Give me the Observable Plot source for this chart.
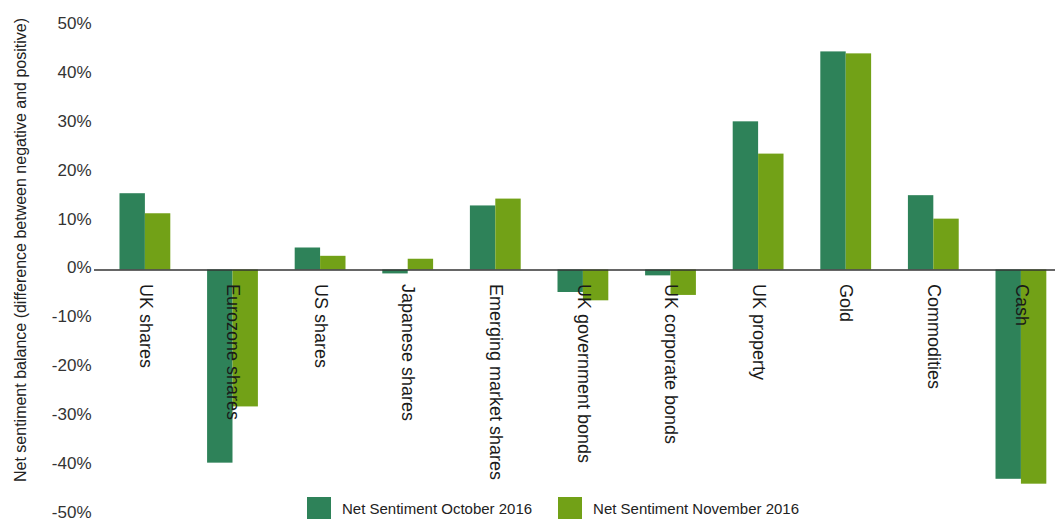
<!DOCTYPE html>
<html>
<head>
<meta charset="utf-8">
<script src="https://cdn.jsdelivr.net/npm/d3@7"></script>
<script src="https://cdn.jsdelivr.net/npm/@observablehq/plot@0.6"></script>
<style>
  body { margin: 0; background: #fff; font-family: "Liberation Sans", Arial, Helvetica, sans-serif; }
  #wrap { position: relative; width: 1055px; height: 521px; }
  #legend { position: absolute; top: 497px; left: 307px; display: flex; align-items: center; font-size: 15px; color: #222; }
  .item { display: flex; align-items: center; margin-right: 26px; }
  .sw { width: 24px; height: 22px; margin-right: 11px; }
</style>
</head>
<body>
<div id="wrap"></div>
<script>
const categories = ["UK shares", "Eurozone shares", "US shares", "Japanese shares", "Emerging market shares",
  "UK government bonds", "UK corporate bonds", "UK property", "Gold", "Commodities", "Cash"];
const october2016 = [15.6, -39.5, 4.5, -0.8, 13.1, -4.6, -1.2, 30.3, 44.6, 15.2, -42.8];
const november2016 = [11.5, -28.0, 2.8, 2.2, 14.5, -6.3, -5.2, 23.7, 44.2, 10.4, -43.8];
const seriesNames = ["Net Sentiment October 2016", "Net Sentiment November 2016"];
const seriesColors = ["#2e8259", "#72a117"];
const yTicks = [-50, -40, -30, -20, -10, 0, 10, 20, 30, 40, 50];

const rows = categories.map((c, i) => ({cat: c, oct: october2016[i], nov: november2016[i]}));

const W = 1055, H = 521, ml = 94, mr = 0;
const pInner = 0.42, pOuter = 0.195;
const step = (W - ml - mr) / (categories.length - pInner + 2 * pOuter);
const half = step * (1 - pInner) / 2;

const chart = Plot.plot({
  width: W,
  height: H,
  marginLeft: ml,
  marginRight: mr,
  marginTop: 25,
  marginBottom: 7,
  style: {fontFamily: '"Liberation Sans", Arial, Helvetica, sans-serif', background: "#fff"},
  x: {domain: categories, paddingInner: pInner, paddingOuter: pOuter, align: 0.746, round: false, axis: null},
  y: {domain: [-50, 50], ticks: yTicks, tickFormat: d => d + "%", label: null, tickSize: 0, tickPadding: 3, axis: null},
  marks: [
    Plot.axisY({ticks: yTicks, tickFormat: d => d + "%", tickSize: 0, tickPadding: 3, fontSize: 17, fill: "#333", label: null, dy: -2}),
    Plot.barY(rows, {x: "cat", y: "oct", fill: seriesColors[0], insetRight: half}),
    Plot.barY(rows, {x: "cat", y: "nov", fill: seriesColors[1], insetLeft: half}),
    Plot.ruleY([0], {stroke: "#333", strokeWidth: 1.5}),
    Plot.text(rows, {x: "cat", y: 0, text: "cat", rotate: 90, textAnchor: "start", lineAnchor: "middle", dy: 14, fontSize: 18, fill: "#1a1a1a"}),
    Plot.text(["Net sentiment balance (difference between negative and positive)"], {
      frameAnchor: "left", textAnchor: "middle", rotate: -90, dx: -74, dy: -20, fontSize: 16, fill: "#222"})
  ]
});
document.getElementById("wrap").appendChild(chart);

const legend = document.createElement("div");
legend.id = "legend";
seriesNames.forEach((n, i) => {
  const it = document.createElement("div");
  it.className = "item";
  const sw = document.createElement("div");
  sw.className = "sw";
  sw.style.background = seriesColors[i];
  const t = document.createElement("span");
  t.textContent = n;
  it.appendChild(sw); it.appendChild(t);
  legend.appendChild(it);
});
document.getElementById("wrap").appendChild(legend);
</script>
</body>
</html>
